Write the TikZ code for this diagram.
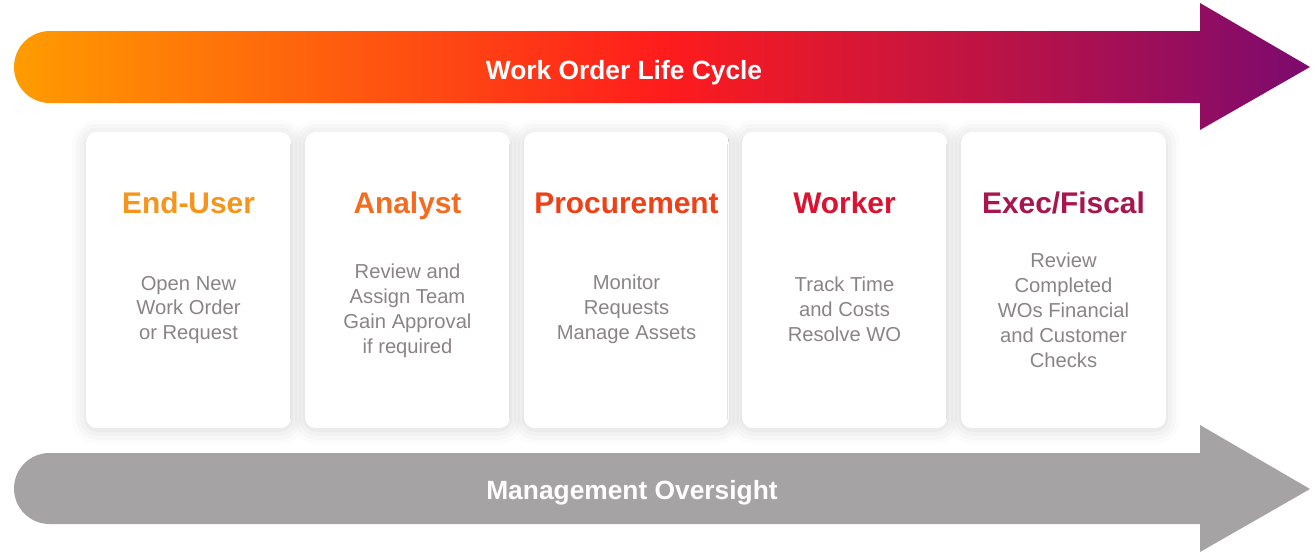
\documentclass[tikz,border=0pt]{standalone}
\usepackage{fontspec}
\setmainfont{Liberation Sans}
\usetikzlibrary{shadows.blur}

\definecolor{lcorange}{HTML}{FF9C00}
\definecolor{lcred}{HTML}{FF1C1C}
\definecolor{lcpurple}{HTML}{7C0A6E}
\definecolor{mgmtgray}{HTML}{A5A3A4}
\definecolor{taskgray}{HTML}{8B8486}
\definecolor{enduser}{HTML}{F5951B}
\definecolor{analyst}{HTML}{F46C1E}
\definecolor{procure}{HTML}{EF4118}
\definecolor{worker}{HTML}{DC1230}
\definecolor{execfis}{HTML}{A8154F}

\begin{document}
\begin{tikzpicture}[x=0.02cm, y=-0.02cm,
    card/.style={fill=white, rounded corners=6pt, minimum width=4.1cm, minimum height=5.92cm,
      blur shadow={shadow xshift=0pt, shadow yshift=-1pt, shadow blur radius=8pt, shadow opacity=16}},
    role/.style={anchor=base, font=\fontsize{17}{20}\selectfont\bfseries},
    task/.style={align=center, text=taskgray, font=\fontsize{11.5}{14.2}\selectfont},
    banner/.style={anchor=base, text=white, font=\fontsize{15}{18}\selectfont\bfseries}]

  \useasboundingbox (0,0) rectangle (1315,552);

  % life cycle arrow
  \shade[left color=lcorange, right color=lcpurple, middle color=lcred]
    (600,31) -- (1200,31) -- (1200,3) -- (1310,67) -- (1200,130) -- (1200,103) -- (600,103)
    [rounded corners=0.72cm] -- (14,103) -- (14,31) -- cycle;
  \node[banner] (cycle) at (624,79) {Work Order Life Cycle};

  % oversight arrow
  \fill[mgmtgray]
    (600,453) -- (1200,453) -- (1200,425) -- (1310,489) -- (1200,552) -- (1200,524) -- (600,524)
    [rounded corners=0.71cm] -- (14,524) -- (14,453) -- cycle;
  \node[banner] (oversight) at (632,499) {Management Oversight};

  % cards
  \node[card] (c1) at (188.5,280) {};
  \node[card] (c2) at (407.5,280) {};
  \node[card] (c3) at (626.5,280) {};
  \node[card] (c4) at (844.5,280) {};
  \node[card] (c5) at (1063.5,280) {};

  \node[role, text=enduser] (r1) at (188.5,213) {End-User};
  \node[role, text=analyst] (r2) at (407.5,213) {Analyst};
  \node[role, text=procure] (r3) at (626.5,213) {Procurement};
  \node[role, text=worker]  (r4) at (844.5,213) {Worker};
  \node[role, text=execfis] (r5) at (1063.5,213) {Exec/Fiscal};

  \node[task] (t1) at (188.5,310) {Open New\\Work Order\\or Request};
  \node[task] (t2) at (407.5,310.5) {Review and\\Assign Team\\Gain Approval\\if required};
  \node[task] (t3) at (626.5,309.5) {Monitor\\Requests\\Manage Assets};
  \node[task] (t4) at (844.5,309.5) {Track Time\\and Costs\\Resolve WO};
  \node[task] (t5) at (1063.5,310.5) {Review\\Completed\\WOs Financial\\and Customer\\Checks};

\end{tikzpicture}
\end{document}
